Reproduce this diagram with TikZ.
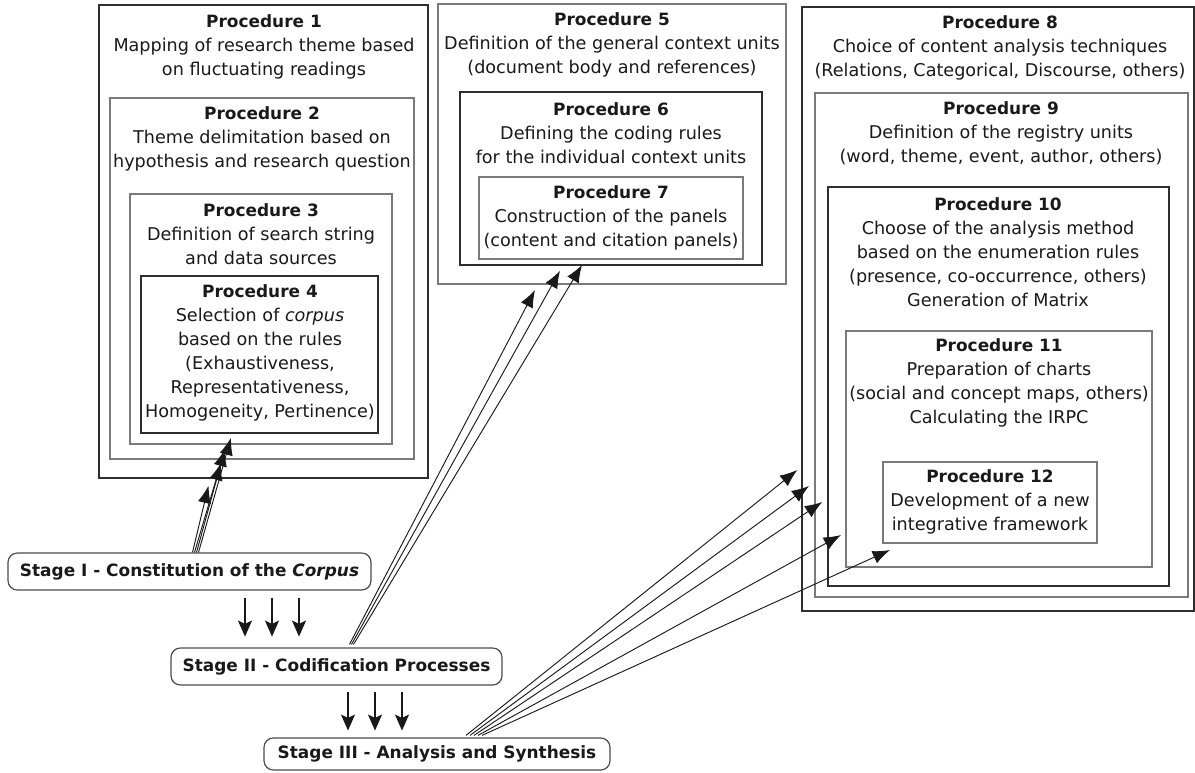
\documentclass[tikz,border=0pt]{standalone}
\usepackage{fontspec}
\setmainfont{DejaVu Sans}
\usetikzlibrary{calc,fit,arrows.meta}
\newcommand\ptitle[1]{{\fontsize{12.7}{18}\selectfont\bfseries #1}}
\begin{document}
\begin{tikzpicture}[x=0.75pt,y=-0.75pt,
  every node/.style={font=\fontsize{13.2}{18}\selectfont, text=black!90},
  frame/.style={draw=black!82, line width=1.1pt, inner sep=0pt},
  framegray/.style={draw=black!52, line width=1.5pt, inner sep=0pt},
  proc/.style={align=center, inner sep=0pt},
  stagebox/.style={draw=black!70, line width=0.9pt, rounded corners=7pt, inner sep=0pt,
                   font=\fontsize{12.7}{18}\selectfont\bfseries},
  arr/.style={-{Latex[length=13pt,width=10pt]}, line width=0.7pt, black!90},
  darr/.style={-{Stealth[length=12pt,width=10.5pt,inset=2.5pt]}, line width=1.3pt, black!90}
]
\useasboundingbox (0,0) rectangle (1195,773);

% ---- Stage I: procedures 1-4 (nested frames)
\node[frame,     fit={(99,5) (428,478)}]   (p1) {};
\node[framegray, fit={(110,98) (414,459)}] (p2) {};
\node[framegray, fit={(130,194) (392,444)}] (p3) {};
\node[frame,     fit={(141,276) (378,433)}] (p4) {};

\node[proc] (t1) at (264,46.5) {\ptitle{Procedure 1}\\Mapping of research theme based\\on fluctuating readings};
\node[proc] (t2) at (262,139) {\ptitle{Procedure 2}\\Theme delimitation based on\\hypothesis and research question};
\node[proc] (t3) at (261,234) {\ptitle{Procedure 3}\\Definition of search string\\and data sources};
\node[proc] (t4) at (260,353) {\ptitle{Procedure 4}\\Selection of \textit{corpus}\\based on the rules\\(Exhaustiveness,\\Representativeness,\\Homogeneity, Pertinence)};

% ---- Stage II: procedures 5-7
\node[framegray, fit={(438,4) (786,284)}]   (p5) {};
\node[frame,     fit={(460,92) (762,265)}]  (p6) {};
\node[framegray, fit={(479,177) (743,259)}] (p7) {};

\node[proc] (t5) at (612,45) {\ptitle{Procedure 5}\\Definition of the general context units\\(document body and references)};
\node[proc] (t6) at (611,133) {\ptitle{Procedure 6}\\Defining the coding rules\\for the individual context units};
\node[proc] (t7) at (611,218) {\ptitle{Procedure 7}\\Construction of the panels\\(content and citation panels)};

% ---- Stage III: procedures 8-12
\node[frame,     fit={(802,7) (1194,611)}]   (p8) {};
\node[framegray, fit={(815,93) (1188,597)}]  (p9) {};
\node[frame,     fit={(828,187) (1169,586)}] (p10) {};
\node[framegray, fit={(846,331) (1152,567)}] (p11) {};
\node[framegray, fit={(883,462) (1097,543)}] (p12) {};

\node[proc] (t8) at (1000,48) {\ptitle{Procedure 8}\\Choice of content analysis techniques\\(Relations, Categorical, Discourse, others)};
\node[proc] (t9) at (1001,133) {\ptitle{Procedure 9}\\Definition of the registry units\\(word, theme, event, author, others)};
\node[proc] (t10) at (998,252) {\ptitle{Procedure 10}\\Choose of the analysis method\\based on the enumeration rules\\(presence, co-occurrence, others)\\Generation of Matrix};
\node[proc] (t11) at (999,383) {\ptitle{Procedure 11}\\Preparation of charts\\(social and concept maps, others)\\Calculating the IRPC};
\node[proc] (t12) at (990,502) {\ptitle{Procedure 12}\\Development of a new\\integrative framework};

% ---- Stages
\node[stagebox, minimum width=272.25pt, minimum height=27.75pt] (s1) at (189.5,571.5) {Stage I - Constitution of the \textit{Corpus}};
\node[stagebox, minimum width=248.25pt, minimum height=27.75pt] (s2) at (336.5,666.5) {Stage II - Codification Processes};
\node[stagebox, minimum width=259.5pt,  minimum height=24pt]    (s3) at (437,754) {Stage III - Analysis and Synthesis};

% ---- Stage I -> procedures 1-4
\draw[arr] ($(s1.north)+(3,0)$) -- ($(p1.south)+(-55,7)$);
\draw[arr] ($(s1.north)+(5,0)$) -- ($(p2.south)+(-41,3)$);
\draw[arr] ($(s1.north)+(7,0)$) -- ($(p3.south)+(-36,4)$);
\draw[arr] ($(s1.north)+(9,0)$) -- ($(p4.south)+(-28.5,4)$);

% ---- Stage II -> procedures 5-7
\draw[arr] ($(s2.north)+(13,-3)$) -- ($(p5.south)+(-77,5)$);
\draw[arr] ($(s2.north)+(15,-3)$) -- ($(p6.south)+(-51,5)$);
\draw[arr] ($(s2.north)+(17,-3)$) -- ($(p7.south)+(-29,5)$);

% ---- Stage III -> procedures 8-12
\draw[arr] ($(s3.north)+(29,-2)$) -- ($(p8.west)+(-4,161)$);
\draw[arr] ($(s3.north)+(33,-2)$) -- ($(p9.west)+(-5,141)$);
\draw[arr] ($(s3.north)+(37,-2)$) -- ($(p10.west)+(-5,115.5)$);
\draw[arr] ($(s3.north)+(41,-2)$) -- ($(p11.west)+(-4,86)$);
\draw[arr] ($(s3.north)+(45,-2)$) -- ($(p12.south)+(-100,6)$);

% ---- stage-to-stage flow
\foreach \dx in {55.5,82.5,109.5}
  \draw[darr] ($(s1.south)+(\dx,7)$) -- ($(s1.south)+(\dx,46)$);
\foreach \dx in {11.5,38.5,65.5}
  \draw[darr] ($(s2.south)+(\dx,6)$) -- ($(s2.south)+(\dx,45)$);
\end{tikzpicture}
\end{document}
